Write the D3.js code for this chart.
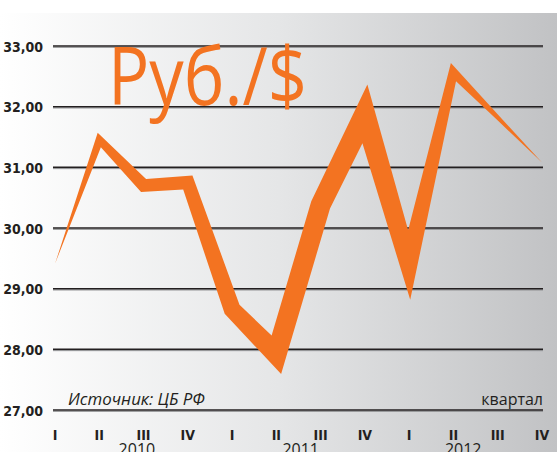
<!DOCTYPE html>
<html><head><meta charset="utf-8">
<script src="https://cdn.jsdelivr.net/npm/d3@7/dist/d3.min.js"></script>
<style>html,body{margin:0;padding:0;background:#fff;overflow:hidden}</style>
</head><body>
<svg id="c" width="557" height="452"></svg>
<script>
// ---- data ----
const quarters = ["I","II","III","IV","I","II","III","IV","I","II","III","IV"];
const years = ["2010","2011","2012"];
const yearAnchor = [1.85, 5.55, 9.22];          // label anchor, in quarter index units
const rate = [29.41, 31.45, 30.70, 30.75, 28.66, 27.91, 30.38, 31.88, 29.39, 32.57, 31.82, 31.08];
const spread = [0, 0.13, 0.21, 0.22, 0.28, 0.33, 0.33, 0.35, 0.29, 0.15, 0.07, 0];
const yTicks = [27, 28, 29, 30, 31, 32, 33];
const title = "Руб./$";
const source = "Источник: ЦБ РФ";
const xTitle = "квартал";

// ---- chart ----
const svg = d3.select("#c");
const W = 557, H = 452;
const orange = "#f37321";
const ink = "#231f20";

const defs = svg.append("defs");
const g = defs.append("linearGradient").attr("id","bg").attr("x1","0").attr("x2","1").attr("y1","0").attr("y2","0");
g.append("stop").attr("offset","0").attr("stop-color","#ffffff");
g.append("stop").attr("offset","0.5").attr("stop-color","#e5e6e7");
g.append("stop").attr("offset","1").attr("stop-color","#c1c2c4");
svg.append("rect").attr("x",0).attr("y",13).attr("width",W).attr("height",H-13).attr("fill","url(#bg)");

const x = d3.scalePoint().domain(d3.range(quarters.length)).range([55, 542]);
const xl = d3.scaleLinear().domain([0, quarters.length-1]).range([55, 542]);
const y = d3.scaleLinear().domain([27, 33]).range([410, 46]);

// grid lines
const grid = svg.append("g");
grid.selectAll("line.s").data(yTicks).join("line")
  .attr("x1",53).attr("x2",543)
  .attr("y1",d=>y(d)+1.3).attr("y2",d=>y(d)+1.3)
  .attr("stroke","#8a8b8d").attr("stroke-width",1);
grid.selectAll("line.m").data(yTicks).join("line")
  .attr("x1",53).attr("x2",543)
  .attr("y1",d=>y(d)).attr("y2",d=>y(d))
  .attr("stroke",ink).attr("stroke-width",1.5);

// y labels
const fmt = d => d.toFixed(2).replace(".", ",");
svg.append("g").selectAll("text").data(yTicks).join("text")
  .attr("x",43).attr("y",d=>y(d)+5.5)
  .attr("text-anchor","end")
  .attr("font-family","'Liberation Sans Narrow','DejaVu Sans Condensed',sans-serif")
  .attr("font-weight","bold").attr("font-size",14).attr("fill",ink)
  .text(fmt);

// x labels
svg.append("g").selectAll("text").data(quarters).join("text")
  .attr("x",(d,i)=>x(i)).attr("y",440)
  .attr("text-anchor","middle")
  .attr("font-family","'Liberation Sans Narrow','DejaVu Sans Condensed',sans-serif")
  .attr("font-weight","bold").attr("font-size",14).attr("fill",ink)
  .text(d=>d);
svg.append("g").selectAll("text").data(years).join("text")
  .attr("x",(d,i)=>xl(yearAnchor[i])).attr("y",455)
  .attr("text-anchor","middle")
  .attr("font-family","'Open Sans','Noto Sans',sans-serif")
  .attr("font-size",16).attr("fill",ink)
  .text(d=>d);

// title
svg.append("text").attr("x",108).attr("y",105)
  .attr("font-family","'Open Sans','Noto Sans',sans-serif")
  .attr("font-size",80).attr("fill",orange)
  .attr("textLength",199).attr("lengthAdjust","spacingAndGlyphs")
  .text(title);

// source / axis title
svg.append("text").attr("x",68).attr("y",405)
  .attr("font-family","'Open Sans','Noto Sans',sans-serif").attr("font-style","italic")
  .attr("font-size",16).attr("fill",ink)
  .attr("textLength",137).attr("lengthAdjust","spacingAndGlyphs")
  .text(source);
svg.append("text").attr("x",543).attr("y",405).attr("text-anchor","end")
  .attr("font-family","'Open Sans','Noto Sans',sans-serif")
  .attr("font-size",16).attr("fill",ink)
  .text(xTitle);

// ribbon: variable-width line with miter joins
const pxPerUnit = Math.abs(y(28) - y(27));
const pts = rate.map((v,i)=>[x(i), y(v)]);
const hw = spread.map(s => s*pxPerUnit/2);
function unitNormal(a,b){ const dx=b[0]-a[0], dy=b[1]-a[1], L=Math.hypot(dx,dy); return [-dy/L, dx/L]; }
const left = [], right = [];
pts.forEach((p,i)=>{
  let m, len;
  if (i===0){ m = unitNormal(pts[0],pts[1]); len = hw[i]; }
  else if (i===pts.length-1){ m = unitNormal(pts[i-1],pts[i]); len = hw[i]; }
  else {
    const n1 = unitNormal(pts[i-1],p), n2 = unitNormal(p,pts[i+1]);
    const sx=n1[0]+n2[0], sy=n1[1]+n2[1], L=Math.hypot(sx,sy);
    m = [sx/L, sy/L];
    len = hw[i] / (m[0]*n1[0]+m[1]*n1[1]);
  }
  left.push([p[0]+m[0]*len, p[1]+m[1]*len]);
  right.push([p[0]-m[0]*len, p[1]-m[1]*len]);
});
const poly = left.concat(right.slice().reverse());
svg.append("path")
  .attr("d", d3.line().curve(d3.curveLinearClosed)(poly))
  .attr("fill", orange);
</script>
</body></html>
